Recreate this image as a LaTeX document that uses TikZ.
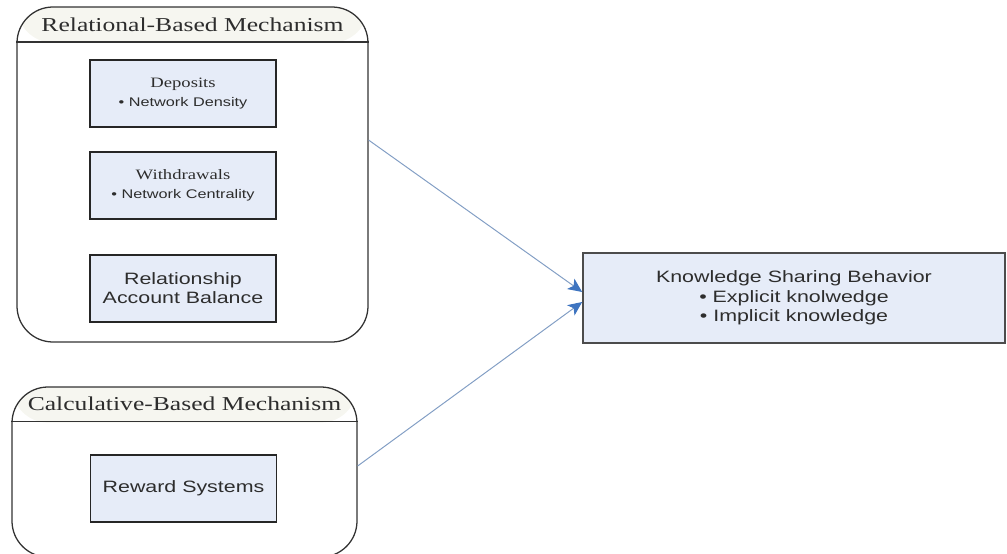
\documentclass[tikz,border=0pt]{standalone}
\usepackage{fontspec}
\usepackage{xcolor}
\usepackage{tikz}
\usetikzlibrary{arrows.meta,positioning,fit,calc}
\newfontfamily\boxsans[FakeStretch=1.3]{Liberation Sans}
\newfontfamily\boxserif[FakeStretch=1.3]{Liberation Serif}
\newcommand{\itemtitle}{\boxserif\fontsize{10.2}{12}\selectfont}
\newcommand{\itemsub}{\boxsans\fontsize{8.9}{12}\selectfont}
\tikzset{
  mechbox/.style ={draw=framegray, line width=0.9pt, rounded corners=0.9cm,
                   inner sep=0pt,
                   path picture={
                     \fill[headfill] (path picture bounding box.north west)
                       rectangle ([yshift=-0.89cm]path picture bounding box.north east);}},
  sepline/.style ={draw=framegray, line width=1.3pt},
  headtext/.style={font=\boxserif\fontsize{14}{16}\selectfont, text=textgray,
                   inner sep=0pt},
  itembox/.style ={draw=black!85, line width=1.3pt, fill=itemfill,
                   minimum width=4.65cm, minimum height=1.675cm, align=center,
                   text=textgray, font=\boxsans\fontsize{11.7}{14}\selectfont,
                   inner sep=2pt},
  ksbbox/.style  ={itembox, draw=black!70, line width=1.1pt,
                   minimum width=10.55cm, minimum height=2.25cm},
  flow/.style    ={draw=linkblue, line width=0.7pt,
                   -{Stealth[length=10pt, width=9pt, inset=2.5pt, color=tipblue]}},
}
\definecolor{framegray}{RGB}{50,50,50}
\definecolor{headfill} {RGB}{246,246,240}
\definecolor{itemfill} {RGB}{230,236,248}
\definecolor{textgray} {RGB}{45,45,45}
\definecolor{linkblue} {RGB}{130,158,196}
\definecolor{tipblue}  {RGB}{62,116,192}
\begin{document}
\begin{tikzpicture}[x=0.025cm, y=-0.025cm]
  \useasboundingbox (0,0) rectangle (1007,553);
  % relational side
  \node[mechbox, fit={(17,7) (368,342)}] (rel) {};
  \draw[sepline] ([yshift=-0.89cm]rel.north west) -- ([yshift=-0.89cm]rel.north east);
  \node[headtext] (relhead) at ([yshift=-0.45cm]rel.north) {Relational-Based Mechanism};
  \node[itembox] (dep) at (183,93.5) {{\itemtitle Deposits}\\{\itemsub • Network Density}};
  \node[itembox, below=0.575cm of dep] (wdr) {{\itemtitle Withdrawals}\\{\itemsub • Network Centrality}};
  \node[itembox, below=0.85cm of wdr] (bal) {Relationship\\Account Balance};
  % calculative side
  \node[mechbox, fit={(12,387) (357,557)}] (calc) {};
  \draw[sepline] ([yshift=-0.88cm]calc.north west) -- ([yshift=-0.88cm]calc.north east);
  \node[headtext] (calchead) at ([yshift=-0.44cm]calc.north) {Calculative-Based Mechanism};
  \node[itembox] (rew) at (183.5,488.5) {Reward Systems};
  % outcome
  \node[ksbbox] (ksb) at (794,298) {Knowledge Sharing Behavior\\• Explicit knolwedge\\• Implicit knowledge};
  \draw[flow] ([yshift=0.86cm]rel.east) -- ([yshift=0.15cm]ksb.west);
  \draw[flow] ([yshift=0.15cm]calc.east) -- ([yshift=-0.1cm]ksb.west);
\end{tikzpicture}
\end{document}
